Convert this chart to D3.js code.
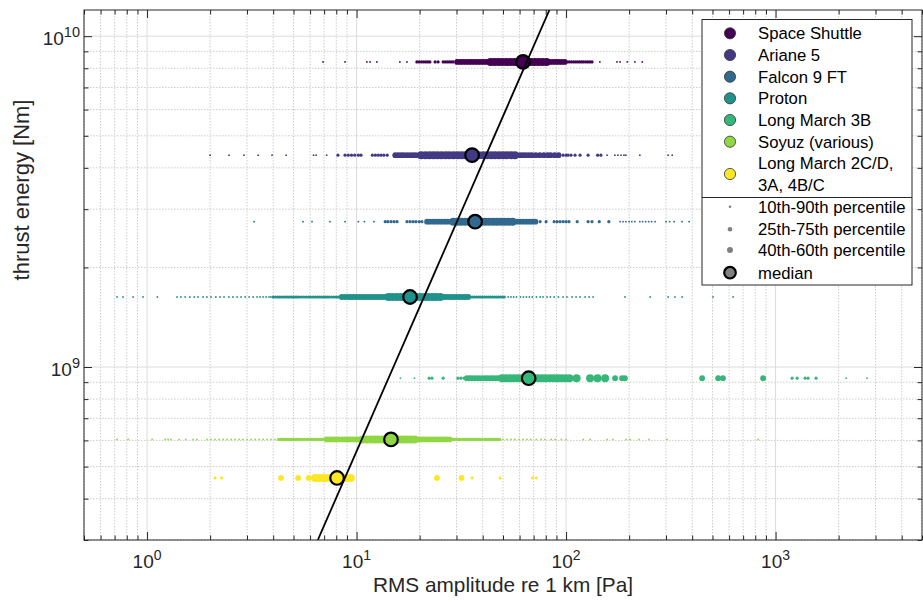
<!DOCTYPE html>
<html><head><meta charset="utf-8">
<script src="https://cdn.jsdelivr.net/npm/d3@7"></script>
<style>
body{margin:0;background:#fff}
svg{display:block}
text{font-family:"Liberation Sans",Arial,Helvetica,sans-serif}
</style>
</head><body>
<svg id="chart" width="923" height="602"></svg>
<script>
// ---------------- data ----------------
const vehicles = ["Space Shuttle","Ariane 5","Falcon 9 FT","Proton","Long March 3B","Soyuz (various)","Long March 2C/D, 3A, 4B/C"];
const legendLines = [["Space Shuttle"],["Ariane 5"],["Falcon 9 FT"],["Proton"],["Long March 3B"],["Soyuz (various)"],["Long March 2C/D,","3A, 4B/C"]];
const thrustEnergy = [8.36e9, 4.37e9, 2.75e9, 1.628e9, 9.25e8, 6.04e8, 4.62e8];

// percentiles of RMS amplitude [Pa]
const p10 = [19.0, 8.0, 13.5, 3.97, 21.2, 4.2, 2.0];
const p25 = [30.0, 14.9, 21.5, 8.4, 33.3, 7.15, 4.08];
const p40 = [43.4, 20.0, 28.6, 14.0, 48.9, 10.6, 6.13];
const medians = [62.3, 35.6, 36.8, 18.0, 66.3, 14.6, 8.07];
const p60 = [82.1, 59.0, 57.7, 25.7, 158.6, 19.2, 9.84];
const p75 = [100, 94.7, 73.5, 34.5, 941, 28.3, 33.0];
const p90 = [137, 152, 166, 51.4, 1820, 48.4, 75.2];

// individual RMS amplitudes re 1 km [Pa]
const shuttleRMS = [6.92,8.81,11.2,11.6,12.5,16.1,17.4,
 19.4,19.9,20.4,20.9,21.4,21.9,22.4,23.7,24.5,25.9,26.5,27.1,27.7,28.3,28.9,
 30.2,31.2,32.2,33.3,34.4,35.5,36.7,37.9,39.1,40.4,41.7,43.0,
 43.6,45.5,47.6,49.7,52.0,54.3,56.7,59.3,62.0,64.8,67.7,70.7,73.9,77.2,80.7,
 83.5,86.3,89.2,92.2,95.3,98.5,
 101,103.5,106,108.5,111,113.5,116,118.5,121,124,127,130,133,
 145,175,181,196,213,231];
const arianeRMS = [2.0,2.46,2.90,3.39,3.95,4.61,6.23,6.41,7.20,
 8.15,8.81,9.13,9.46,9.8,10.2,10.5,11.9,12.3,12.7,13.1,13.5,14.0,
 15.3,15.8,16.3,16.8,17.4,18.0,18.6,19.2,
 20.3,21.3,22.3,23.3,24.3,25.4,26.6,27.7,29.0,30.3,31.6,33.0,34.5,36.5,38.3,40.2,42.0,43.9,45.8,47.9,50.0,52.2,54.6,57.0,
 60.3,62.3,64.3,66.5,68.7,71.7,74.9,78.3,81.7,84.4,88.2,92.1,
 96.8,100,102.2,105.6,110.4,116.6,127.4,141.4,146.6,
 157,171,177,183,189,193,225,307,321];
const falconRMS = [3.24,5.55,6.13,7.47,8.81,10.2,10.9,12.1,
 13.7,14.1,14.6,15.1,15.6,17.4,18.0,18.6,19.2,19.9,20.5,
 21.7,22.4,23.2,23.9,24.7,25.5,26.4,27.2,28.2,
 29.0,30.3,31.6,33.0,34.5,36.0,37.6,39.3,41.0,42.8,44.8,46.7,48.8,51.0,53.2,55.6,
 58.6,60.6,62.6,64.7,66.8,69.1,71.4,
 75.2,80.3,87.7,90.6,93.6,96.8,100,103.3,113,127.4,133,144,160,
 181,187,193,200,206,213,225,232,240,248,256,266,300,312,328,358,387];
const protonRMS = [0.719,0.768,0.858,0.957,1.12,1.39,1.45,1.52,1.60,1.68,1.75,1.85,1.93,2.02,2.13,2.23,2.33,2.46,2.57,2.69,2.81,2.94,3.07,3.21,3.35,3.46,3.58,3.70,3.82,3.90,
 4.0,4.1,4.2,4.3,4.4,4.5,4.6,4.7,4.8,4.9,5.0,5.1,5.2,5.3,5.45,5.6,5.75,5.9,6.05,6.2,6.35,6.5,6.65,6.8,6.95,7.1,7.25,7.4,7.6,7.8,8.0,8.2,
 8.5,8.8,9.1,9.4,9.7,10.0,10.35,10.7,11.05,11.4,11.8,12.2,12.6,13.0,13.4,13.8,
 14.2,14.8,15.5,16.2,16.9,17.7,18.5,19.3,20.2,21.1,22.0,23.0,24.0,25.1,
 26.2,27.1,28.0,28.9,29.9,30.9,31.9,33.0,34.1,
 35.0,35.8,36.6,37.4,38.2,39.0,39.9,40.8,41.7,42.6,43.5,44.5,45.5,46.5,47.5,48.5,49.6,50.7,
 52.9,54.6,56.2,58.0,60.6,62.6,64.7,66.8,69.0,72.2,75.2,77.6,81.2,84.2,87.7,91.9,96.8,101,106.8,111.6,116.6,123.3,128.8,134.6,191,252,307,331,358,503,627];
const lm3bRMS = [16.2,18.9,
 22.2,22.9,25.9,30.5,31.5,32.6,
 33.6,34.7,35.8,37.0,38.3,39.6,41.0,42.3,43.8,45.2,46.7,48.3,
 49.5,51.7,54.0,56.4,58.9,61.5,64.2,67.1,70.1,73.2,76.5,79.9,83.5,87.2,91.1,95.1,99.4,103.8,112.3,130.2,141.3,153.6,
 171.4,185,191,446,532,561,872,
 1199,1267,1383,1429,1560,
 2172,2735];
const soyuzRMS = [0.719,0.812,1.057,1.219,1.26,1.30,1.42,1.53,1.66,1.73,1.93,2.02,2.11,2.21,2.31,2.41,2.52,2.63,2.75,2.87,3.0,3.14,3.28,3.43,3.58,3.74,3.90,4.08,
 4.25,4.35,4.45,4.55,4.65,4.75,4.85,4.95,5.05,5.15,5.25,5.35,5.5,5.65,5.8,5.95,6.1,6.25,6.4,6.55,6.7,6.85,7.0,
 7.2,7.45,7.7,7.95,8.2,8.5,8.8,9.1,9.4,9.7,10.0,10.3,
 10.7,11.2,11.7,12.2,12.7,13.3,13.9,14.5,15.2,15.9,16.6,17.3,18.1,18.9,
 19.4,20.0,20.7,21.4,22.1,22.8,23.6,24.4,25.2,26.0,26.9,27.8,
 28.6,29.2,29.9,30.6,31.3,32.0,32.7,33.4,34.1,34.8,35.6,36.4,37.2,38.0,38.8,39.7,40.6,41.5,42.4,43.3,44.3,45.3,46.3,47.3,48.2,
 50.0,52.2,54.6,57.0,59.6,62.3,65.0,67.9,72.2,75.9,79.3,84.9,88.7,94.9,100,120.6,130.2,157,167.6,193.3,202,223,249,303,826];
const lm2cRMS = [2.11,2.27,4.36,5.26,5.91,6.34,6.62,6.92,7.23,7.55,7.89,8.24,8.61,8.99,9.39,24.2,31.7,35.6,48.4,69.2,72.1];
const rmsByVehicle = [shuttleRMS, arianeRMS, falconRMS, protonRMS, lm3bRMS, soyuzRMS, lm2cRMS];

// fitted trend line end points
const lineX = [6.53, 83.3];
const lineY = [3e8, 1.2e10];

const xTickLabels = [{v:1,e:"0"},{v:10,e:"1"},{v:100,e:"2"},{v:1000,e:"3"}];
const yTickLabels = [{v:1e9,e:"9"},{v:1e10,e:"10"}];
const percentileLabels = ["10th-90th percentile","25th-75th percentile","40th-60th percentile","median"];

// ---------------- drawing ----------------
const L=84, R=922, T=10, B=540;
const svg = d3.select("#chart");
const x = d3.scaleLog().domain([0.5,5000]).range([L,R]);
const y = d3.scaleLog().domain([3e8,1.2e10]).range([B,T]);
const colors = vehicles.map((d,i)=>d3.interpolateViridis(i/(vehicles.length-1)));
const axisColor = "#262626";

const isMajor = v => Math.abs(Math.log10(v) - Math.round(Math.log10(v))) < 1e-9;
const xt = x.ticks(), yt = y.ticks();
const xMinor = xt.filter(v=>!isMajor(v)), xMajor = xt.filter(isMajor);
const yMinor = yt.filter(v=>!isMajor(v)), yMajor = yt.filter(isMajor);

// grid
const grid = svg.append("g");
grid.selectAll(".gxm").data(xMinor).join("line")
  .attr("x1",d=>x(d)).attr("x2",d=>x(d)).attr("y1",T).attr("y2",B)
  .attr("stroke","#cdcdcd").attr("stroke-width",1).attr("stroke-dasharray","1.5,1.5");
grid.selectAll(".gym").data(yMinor).join("line")
  .attr("y1",d=>y(d)).attr("y2",d=>y(d)).attr("x1",L).attr("x2",R)
  .attr("stroke","#cdcdcd").attr("stroke-width",1).attr("stroke-dasharray","1.5,1.5");
grid.selectAll(".gxM").data(xMajor).join("line")
  .attr("x1",d=>x(d)).attr("x2",d=>x(d)).attr("y1",T).attr("y2",B)
  .attr("stroke","#dcdcdc").attr("stroke-width",1);
grid.selectAll(".gyM").data(yMajor).join("line")
  .attr("y1",d=>y(d)).attr("y2",d=>y(d)).attr("x1",L).attr("x2",R)
  .attr("stroke","#dcdcdc").attr("stroke-width",1);

// clip
svg.append("clipPath").attr("id","plotclip").append("rect")
  .attr("x",L).attr("y",T).attr("width",R-L).attr("height",B-T);
const plot = svg.append("g").attr("clip-path","url(#plotclip)");

// dots
const radius = [0.9, 1.6, 2.9, 4.0];
function band(v,i){
  if (v < p10[i] || v > p90[i]) return 0;
  if (v < p25[i] || v > p75[i]) return 1;
  if (v < p40[i] || v > p60[i]) return 2;
  return 3;
}
rmsByVehicle.forEach((arr,i)=>{
  const pts = arr.map(v=>({v, b:band(v,i)})).sort((a,b)=>a.b-b.b);
  plot.append("g").selectAll("circle").data(pts).join("circle")
    .attr("cx",d=>x(d.v)).attr("cy",y(thrustEnergy[i]))
    .attr("r",d=>radius[d.b]).attr("fill",colors[i]);
});
// medians
plot.append("g").selectAll("circle").data(medians).join("circle")
  .attr("cx",d=>x(d)).attr("cy",(d,i)=>y(thrustEnergy[i]))
  .attr("r",6.8).attr("fill",(d,i)=>colors[i])
  .attr("stroke","#000").attr("stroke-width",2.2);
// trend line
plot.append("path")
  .datum(lineX.map((v,i)=>[v,lineY[i]]))
  .attr("d",d3.line().x(d=>x(d[0])).y(d=>y(d[1])))
  .attr("fill","none").attr("stroke","#000").attr("stroke-width",1.8);

// axes ticks (inward)
function ticks(axisFn, scale, vals, size, tr){
  const g = svg.append("g").attr("transform",tr)
    .call(axisFn(scale).tickValues(vals).tickSize(size).tickFormat(""));
  g.select(".domain").remove();
  g.selectAll("line").attr("stroke",axisColor);
}
ticks(d3.axisBottom,x,xMinor,-4.5,`translate(0,${B})`);
ticks(d3.axisBottom,x,xMajor,-8,`translate(0,${B})`);
ticks(d3.axisTop,x,xMinor,-4.5,`translate(0,${T})`);
ticks(d3.axisTop,x,xMajor,-8,`translate(0,${T})`);
ticks(d3.axisLeft,y,yMinor,-4.5,`translate(${L},0)`);
ticks(d3.axisLeft,y,yMajor,-8,`translate(${L},0)`);
ticks(d3.axisRight,y,yMinor,-4.5,`translate(${R},0)`);
ticks(d3.axisRight,y,yMajor,-8,`translate(${R},0)`);
svg.append("rect").attr("x",L).attr("y",T).attr("width",R-L).attr("height",B-T)
  .attr("fill","none").attr("stroke",axisColor).attr("stroke-width",1);

// tick labels
xTickLabels.forEach(t=>{
  const tx = svg.append("text").attr("x",x(t.v)).attr("y",568)
    .attr("text-anchor","middle").attr("fill",axisColor).attr("font-size",19);
  tx.append("tspan").text("10");
  tx.append("tspan").attr("dy",-8.5).attr("font-size",14).text(t.e);
});
yTickLabels.forEach(t=>{
  const tx = svg.append("text").attr("x",80).attr("y",y(t.v)+9)
    .attr("text-anchor","end").attr("fill",axisColor).attr("font-size",19);
  tx.append("tspan").text("10");
  tx.append("tspan").attr("dy",-8.5).attr("font-size",14.5).text(t.e);
});

// axis labels
svg.append("text").attr("x",(L+R)/2).attr("y",592).attr("text-anchor","middle")
  .attr("fill",axisColor).attr("font-size",20.8).text("RMS amplitude re 1 km [Pa]");
svg.append("text").attr("transform",`translate(29,190) rotate(-90)`).attr("text-anchor","middle")
  .attr("fill",axisColor).attr("font-size",22).text("thrust energy [Nm]");

// legend
const lg = svg.append("g");
lg.append("rect").attr("x",702).attr("y",19.5).attr("width",210).attr("height",265.5)
  .attr("fill","#fff").attr("stroke",axisColor).attr("stroke-width",1);
lg.append("line").attr("x1",702).attr("x2",912).attr("y1",197.5).attr("y2",197.5)
  .attr("stroke",axisColor).attr("stroke-width",1);
const rowY = [33.3,55,76.7,98.3,120,141.7,174];
legendLines.forEach((lines,i)=>{
  lg.append("circle").attr("cx",730).attr("cy",rowY[i]).attr("r",5.6)
    .attr("fill",colors[i]).attr("stroke","#333").attr("stroke-width",0.8);
  const t = lg.append("text").attr("x",758).attr("fill","#000").attr("font-size",16.7);
  if (lines.length===1) t.attr("y",rowY[i]+6).text(lines[0]);
  else lines.forEach((s,k)=>t.append("tspan").attr("x",758).attr("y",rowY[i]-10.8+6+k*21.7).text(s));
});
const legendRadius = [1.3, 2.3, 3.0];
const pRowY = [206.7,229.3,250,272.7];
percentileLabels.forEach((s,k)=>{
  const c = lg.append("circle").attr("cx",730).attr("cy",pRowY[k]).attr("fill","#808080");
  if (k<3) c.attr("r",legendRadius[k]);
  else c.attr("r",5.8).attr("stroke","#000").attr("stroke-width",2.2);
  lg.append("text").attr("x",758).attr("y",pRowY[k]+6).attr("fill","#000")
    .attr("font-size",16.7).text(s);
});
</script>
</body></html>
